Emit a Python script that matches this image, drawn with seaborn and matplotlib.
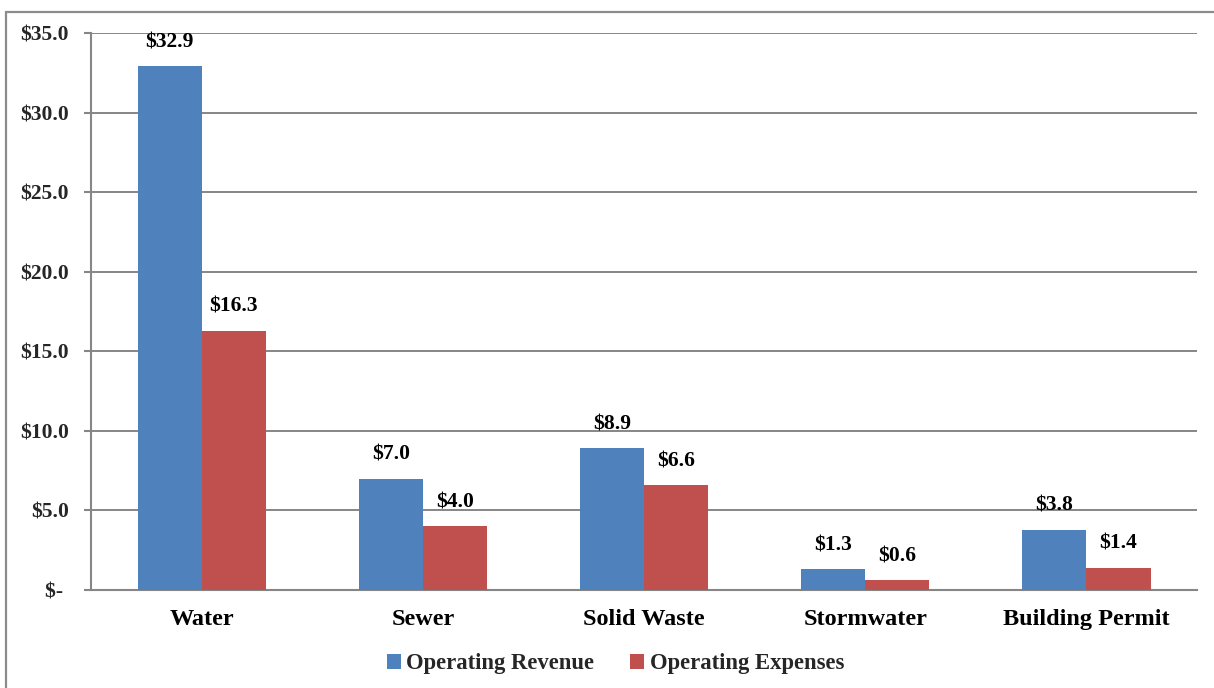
import matplotlib
matplotlib.use("Agg")
import matplotlib.pyplot as plt
from matplotlib.lines import Line2D
from matplotlib.ticker import FixedLocator
import seaborn as sns
import pandas as pd

categories = ["Water", "Sewer", "Solid Waste", "Stormwater", "Building Permit"]
revenue = [32.9, 7.0, 8.9, 1.3, 3.8]
expenses = [16.3, 4.0, 6.6, 0.6, 1.4]
series_names = ["Operating Revenue", "Operating Expenses"]
y_ticks = [0, 5, 10, 15, 20, 25, 30, 35]
y_tick_labels = ["$- ", "$5.0", "$10.0", "$15.0", "$20.0", "$25.0", "$30.0", "$35.0"]

df = pd.DataFrame({
    "category": categories * 2,
    "value": revenue + expenses,
    "series": [series_names[0]] * len(categories) + [series_names[1]] * len(categories),
})

sns.set_theme(style="white")
plt.rcParams["font.family"] = ["Liberation Serif", "DejaVu Serif"]
plt.rcParams["font.weight"] = "bold"

grid_gray = "#868686"
fig = plt.figure(figsize=(12.14, 6.88), dpi=100)
ax = fig.add_axes([0.075, 0.1424, 0.911, 0.8096])

sns.barplot(data=df, x="category", y="value", hue="series",
            palette=["#4F81BD", "#C0504D"], width=0.58, saturation=1,
            errorbar=None, ax=ax, legend=True, zorder=3, linewidth=0)

for cont in ax.containers:
    ax.bar_label(cont, labels=[f"${v:.1f}" for v in cont.datavalues],
                 padding=10, fontsize=15.5, fontweight="bold", color="black")

ax.set_ylim(0, 35)
ax.set_xlim(-0.5, len(categories) - 0.5)
ax.set_yticks(y_ticks)
ax.set_yticklabels(y_tick_labels, fontsize=15.5, fontweight="bold")
ax.set_xticks(range(len(categories)))
ax.set_xticklabels(categories, fontsize=17.5, fontweight="bold")
ax.xaxis.set_minor_locator(FixedLocator([i - 0.5 for i in range(len(categories) + 1)]))
ax.tick_params(axis="x", which="major", length=0, pad=14, colors="black")
ax.tick_params(axis="x", which="minor", length=5, width=1.5, color=grid_gray, direction="out")
ax.tick_params(axis="y", which="major", length=5, width=1.5, color=grid_gray, pad=11,
               direction="out", left=True)
ax.set_xlabel("")
ax.set_ylabel("")

ax.yaxis.grid(True, color=grid_gray, linewidth=1.4, zorder=0)
ax.set_axisbelow(True)
for side in ["top", "right"]:
    ax.spines[side].set_visible(False)
for side in ["left", "bottom"]:
    ax.spines[side].set_color(grid_gray)
    ax.spines[side].set_linewidth(1.5)

handles, labels = ax.get_legend_handles_labels()
ax.get_legend().remove()
fig.legend(handles, labels, loc="center", bbox_to_anchor=(0.507, 1 - 664 / 688),
           ncol=2, frameon=False, handlelength=0.6, handleheight=0.6,
           handletextpad=0.25, columnspacing=1.6, prop={"weight": "bold", "size": 16.3})

# chart-area frame along the top and left edges
fig.add_artist(Line2D([6 / 1214, 1.0], [1 - 11.5 / 688, 1 - 11.5 / 688],
                      transform=fig.transFigure, color="#8c8c8c", linewidth=1.6))
fig.add_artist(Line2D([6 / 1214, 6 / 1214], [0.0, 1 - 11.5 / 688],
                      transform=fig.transFigure, color="#8c8c8c", linewidth=1.6))

fig.savefig("out.png", dpi=100, facecolor="white")
